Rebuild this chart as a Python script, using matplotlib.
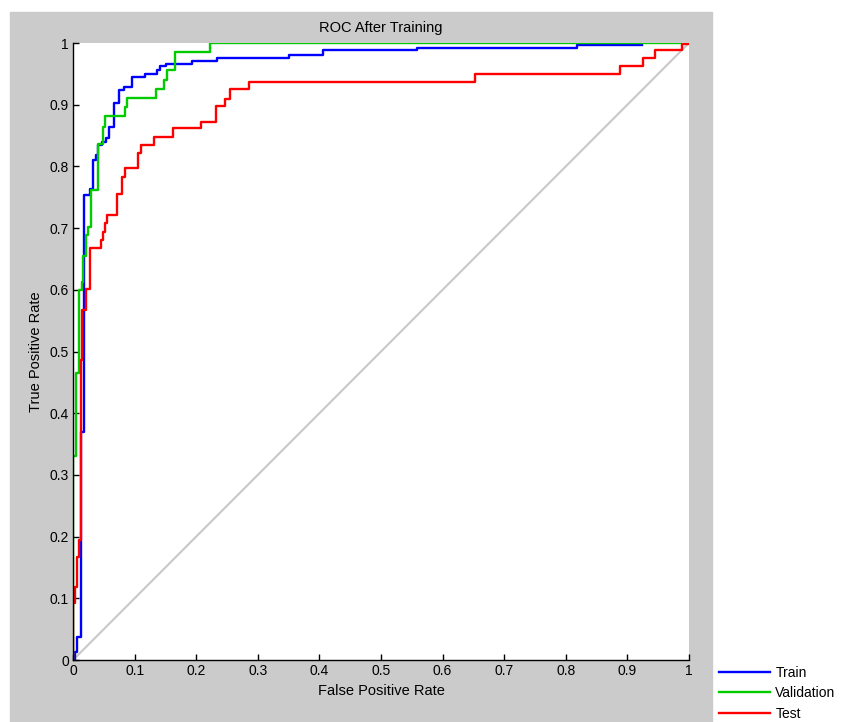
"""
ROC plot after training (train / validation / test)
"""

import matplotlib.pyplot as plt
from matplotlib.patches import Rectangle

plt.rcParams['font.family'] = ['Liberation Sans', 'DejaVu Sans']

# ROC staircase corners (false positive rate, true positive rate)
train_fpr = [0.003, 0.003, 0.006, 0.013, 0.018, 0.028, 0.033, 0.037, 0.041, 0.047,
             0.053, 0.059, 0.067, 0.074, 0.082, 0.095, 0.117, 0.136, 0.141, 0.151,
             0.193, 0.233, 0.350, 0.406, 0.558, 0.818, 0.923]
train_tpr = [0.0, 0.013, 0.038, 0.370, 0.754, 0.764, 0.810, 0.818, 0.835, 0.840,
             0.846, 0.864, 0.903, 0.924, 0.929, 0.945, 0.950, 0.956, 0.963, 0.966,
             0.971, 0.976, 0.981, 0.989, 0.992, 0.996, 0.996]

val_fpr = [0.0, 0.0, 0.005, 0.009, 0.014, 0.017, 0.021, 0.025, 0.030, 0.041,
           0.049, 0.052, 0.084, 0.087, 0.134, 0.147, 0.152, 0.166, 0.222, 1.0]
val_tpr = [0.0, 0.330, 0.465, 0.600, 0.613, 0.654, 0.689, 0.702, 0.762, 0.837,
           0.864, 0.882, 0.897, 0.911, 0.926, 0.940, 0.956, 0.986, 1.0, 1.0]

test_fpr = [0.0, 0.0, 0.003, 0.006, 0.0095, 0.0125, 0.015, 0.021, 0.028, 0.045,
            0.048, 0.052, 0.055, 0.072, 0.079, 0.084, 0.106, 0.111, 0.131, 0.163,
            0.208, 0.232, 0.247, 0.255, 0.286, 0.652, 0.888, 0.926, 0.945, 0.988,
            1.0]
test_tpr = [0.0, 0.092, 0.119, 0.167, 0.194, 0.486, 0.567, 0.602, 0.667, 0.681,
            0.694, 0.708, 0.721, 0.756, 0.783, 0.797, 0.821, 0.835, 0.848, 0.862,
            0.872, 0.898, 0.910, 0.925, 0.936, 0.950, 0.962, 0.975, 0.989, 0.998,
            1.0]

ticks = [0, 0.1, 0.2, 0.3, 0.4, 0.5, 0.6, 0.7, 0.8, 0.9, 1]
tick_labels = ['0', '0.1', '0.2', '0.3', '0.4', '0.5', '0.6', '0.7', '0.8', '0.9', '1']

W, H = 850, 722
fig = plt.figure(figsize=(W / 100, H / 100), dpi=100)

# gray window background (MATLAB style), kept behind the axes
fig.add_artist(Rectangle((10 / W, 0), 702 / W, 1 - 12 / H,
                         transform=fig.transFigure, color='#cbcbcb', zorder=-10))

ax = fig.add_axes([73 / W, 62 / H, 616 / W, 617 / H])
ax.set_facecolor('white')

# chance line
ax.plot([0, 1], [0, 1], color='#c8c8c8', linewidth=1.5)

ax.step(train_fpr, train_tpr, where='post', color='#0000ff', linewidth=1.7, label='Train')
ax.step(val_fpr, val_tpr, where='post', color='#00cc00', linewidth=1.7, label='Validation')
ax.step(test_fpr, test_tpr, where='post', color='#ff0000', linewidth=1.7, label='Test')

ax.set_xlim(0, 1)
ax.set_ylim(0, 1)
ax.set_xticks(ticks)
ax.set_xticklabels(tick_labels)
ax.set_yticks(ticks)
ax.set_yticklabels(tick_labels)
ax.tick_params(direction='in', length=4, width=1, labelsize=10, pad=3)
ax.spines['top'].set_visible(False)
ax.spines['right'].set_visible(False)
for s in ['left', 'bottom']:
    ax.spines[s].set_linewidth(1)

ax.set_title('ROC After Training', fontsize=10.5, pad=8)
ax.set_xlabel('False Positive Rate', fontsize=10.5, labelpad=4)
ax.set_ylabel('True Positive Rate', fontsize=10.5, labelpad=5)

fig.legend(loc='upper left', bbox_to_anchor=(719 / W, 1 - 666 / H), frameon=False,
           fontsize=10, handlelength=3.7, handletextpad=0.35, labelspacing=0.45,
           borderpad=0, borderaxespad=0)

plt.savefig('out.png', dpi=100)
